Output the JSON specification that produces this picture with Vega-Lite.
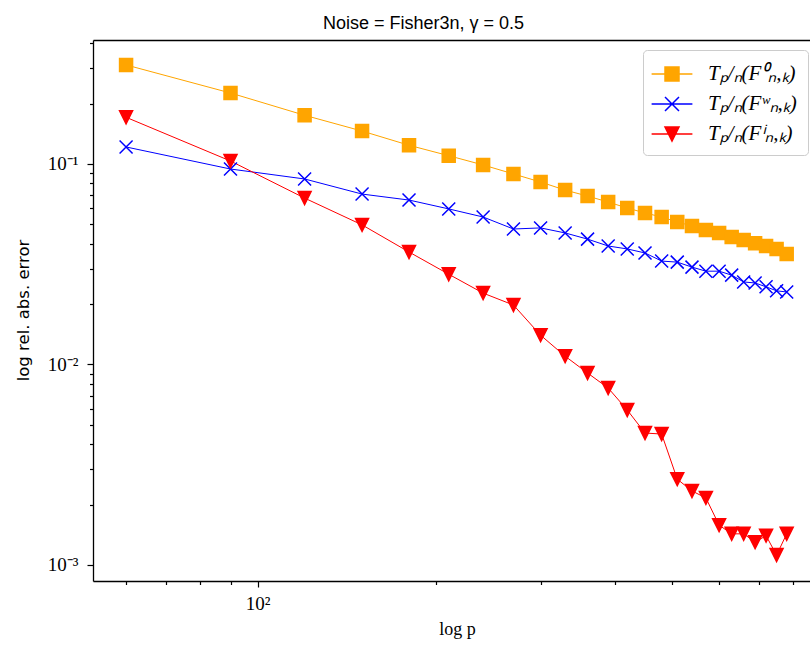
{
  "$schema": "https://vega.github.io/schema/vega-lite/v6.json",
  "width": 717,
  "height": 541,
  "autosize": {"type": "none"},
  "padding": {"left": 93, "top": 40, "right": 0, "bottom": 64},
  "background": "white",
  "config": {"view": {"stroke": null}},
  "title": {"text": "Noise = Fisher3n, γ = 0.5", "font": "Liberation Sans", "fontSize": 18, "fontWeight": "normal", "color": "black", "anchor": "start", "frame": "group", "dx": 230, "baseline": "alphabetic", "offset": -13},
  "data": {"values": [
    {"p": 60, "err": 0.312, "s": "F0"}, {"p": 90, "err": 0.226, "s": "F0"}, {"p": 120, "err": 0.175, "s": "F0"}, {"p": 150, "err": 0.146, "s": "F0"}, {"p": 180, "err": 0.124, "s": "F0"}, {"p": 210, "err": 0.110, "s": "F0"}, {"p": 240, "err": 0.0989, "s": "F0"}, {"p": 270, "err": 0.0892, "s": "F0"}, {"p": 300, "err": 0.0813, "s": "F0"}, {"p": 330, "err": 0.0741, "s": "F0"}, {"p": 360, "err": 0.0692, "s": "F0"}, {"p": 390, "err": 0.0646, "s": "F0"}, {"p": 420, "err": 0.0603, "s": "F0"}, {"p": 450, "err": 0.0570, "s": "F0"}, {"p": 480, "err": 0.0544, "s": "F0"}, {"p": 510, "err": 0.0514, "s": "F0"}, {"p": 540, "err": 0.0491, "s": "F0"}, {"p": 570, "err": 0.0469, "s": "F0"}, {"p": 600, "err": 0.0453, "s": "F0"}, {"p": 630, "err": 0.0433, "s": "F0"}, {"p": 660, "err": 0.0418, "s": "F0"}, {"p": 690, "err": 0.0403, "s": "F0"}, {"p": 720, "err": 0.0390, "s": "F0"}, {"p": 750, "err": 0.0377, "s": "F0"}, {"p": 780, "err": 0.0356, "s": "F0"},
    {"p": 60, "err": 0.1216, "s": "Fw"}, {"p": 90, "err": 0.0944, "s": "Fw"}, {"p": 120, "err": 0.0842, "s": "Fw"}, {"p": 150, "err": 0.0708, "s": "Fw"}, {"p": 180, "err": 0.0661, "s": "Fw"}, {"p": 210, "err": 0.0597, "s": "Fw"}, {"p": 240, "err": 0.0544, "s": "Fw"}, {"p": 270, "err": 0.0474, "s": "Fw"}, {"p": 300, "err": 0.0480, "s": "Fw"}, {"p": 330, "err": 0.0453, "s": "Fw"}, {"p": 360, "err": 0.0422, "s": "Fw"}, {"p": 390, "err": 0.0390, "s": "Fw"}, {"p": 420, "err": 0.0377, "s": "Fw"}, {"p": 450, "err": 0.0360, "s": "Fw"}, {"p": 480, "err": 0.0328, "s": "Fw"}, {"p": 510, "err": 0.0324, "s": "Fw"}, {"p": 540, "err": 0.0306, "s": "Fw"}, {"p": 570, "err": 0.0292, "s": "Fw"}, {"p": 600, "err": 0.0292, "s": "Fw"}, {"p": 630, "err": 0.0279, "s": "Fw"}, {"p": 660, "err": 0.0258, "s": "Fw"}, {"p": 690, "err": 0.0255, "s": "Fw"}, {"p": 720, "err": 0.0244, "s": "Fw"}, {"p": 750, "err": 0.0233, "s": "Fw"}, {"p": 780, "err": 0.0230, "s": "Fw"},
    {"p": 60, "err": 0.171, "s": "Fi"}, {"p": 90, "err": 0.1035, "s": "Fi"}, {"p": 120, "err": 0.0676, "s": "Fi"}, {"p": 150, "err": 0.0497, "s": "Fi"}, {"p": 180, "err": 0.0364, "s": "Fi"}, {"p": 210, "err": 0.0282, "s": "Fi"}, {"p": 240, "err": 0.0227, "s": "Fi"}, {"p": 270, "err": 0.0198, "s": "Fi"}, {"p": 300, "err": 0.0140, "s": "Fi"}, {"p": 330, "err": 0.0110, "s": "Fi"}, {"p": 360, "err": 0.00907, "s": "Fi"}, {"p": 390, "err": 0.00763, "s": "Fi"}, {"p": 420, "err": 0.00593, "s": "Fi"}, {"p": 450, "err": 0.00455, "s": "Fi"}, {"p": 480, "err": 0.00450, "s": "Fi"}, {"p": 510, "err": 0.00268, "s": "Fi"}, {"p": 540, "err": 0.00234, "s": "Fi"}, {"p": 570, "err": 0.00216, "s": "Fi"}, {"p": 600, "err": 0.00158, "s": "Fi"}, {"p": 630, "err": 0.00143, "s": "Fi"}, {"p": 660, "err": 0.00143, "s": "Fi"}, {"p": 690, "err": 0.00130, "s": "Fi"}, {"p": 720, "err": 0.00140, "s": "Fi"}, {"p": 750, "err": 0.00112, "s": "Fi"}, {"p": 780, "err": 0.00143, "s": "Fi"}
  ]},
  "resolve": {"scale": {"shape": "independent", "color": "independent", "stroke": "independent"}, "axis": {"x": "independent"}},
  "layer": [
    {
      "layer": [
        {
          "mark": {"type": "line", "strokeWidth": 1, "clip": true},
          "encoding": {
            "x": {"field": "p", "type": "quantitative",
              "scale": {"type": "log", "domain": [52.77, 853.9], "nice": false, "zero": false},
              "axis": {"orient": "bottom", "values": [60, 70, 80, 90, 100, 200, 300, 400, 500, 600, 700, 800],
                "labelExpr": "datum.value == 100 ? '10²' : ''",
                "tickSize": {"condition": {"test": "datum.value == 100", "value": 6}, "value": 3.5},
                "tickColor": "black", "tickWidth": 1.2, "domainColor": "black", "domainWidth": 1.3,
                "labelFont": "Liberation Serif", "labelFontSize": 19, "labelColor": "black", "labelBaseline": "alphabetic", "labelPadding": 22, "labelOverlap": false, "labelFlush": false,
                "grid": false,
                "title": "log p", "titleFont": "Liberation Serif", "titleFontSize": 18, "titleFontWeight": "normal", "titleColor": "black",
                "titleX": 364, "titleY": 53, "titleAlign": "center", "titleBaseline": "alphabetic"}},
            "y": {"field": "err", "type": "quantitative",
              "scale": {"type": "log", "domain": [0.000832, 0.4154], "nice": false, "zero": false},
              "axis": {"values": [0.001, 0.002, 0.003, 0.004, 0.005, 0.006, 0.007, 0.008, 0.009, 0.01, 0.02, 0.03, 0.04, 0.05, 0.06, 0.07, 0.08, 0.09, 0.1, 0.2, 0.3, 0.4],
                "labelExpr": "datum.value == 0.1 ? '10⁻¹' : datum.value == 0.01 ? '10⁻²' : datum.value == 0.001 ? '10⁻³' : ''",
                "tickSize": {"condition": {"test": "datum.value == 0.1 || datum.value == 0.01 || datum.value == 0.001", "value": 6}, "value": 3.5},
                "tickColor": "black", "tickWidth": 1.2, "domainColor": "black", "domainWidth": 1.3,
                "labelFont": "Liberation Serif", "labelFontSize": 19, "labelColor": "black", "labelBaseline": "middle", "labelPadding": 9, "labelOverlap": false, "labelFlush": false,
                "grid": false,
                "title": "log rel. abs. error", "titleFont": "DejaVu Sans", "titleFontSize": 16.5, "titleFontWeight": "normal", "titleColor": "black",
                "titleX": -65, "titleY": 270, "titleAlign": "center", "titleBaseline": "alphabetic", "titleAngle": 270}},
            "color": {"field": "s", "type": "nominal", "scale": {"domain": ["F0", "Fw", "Fi"], "range": ["orange", "blue", "red"]}, "legend": null},
            "detail": {"field": "s"}
          }
        },
        {
          "mark": {"type": "point", "filled": true, "size": 169, "strokeWidth": 1.5, "opacity": 1, "clip": true},
          "encoding": {
            "x": {"field": "p", "type": "quantitative"},
            "y": {"field": "err", "type": "quantitative"},
            "shape": {"field": "s", "type": "nominal", "scale": {"domain": ["F0", "Fw", "Fi"], "range": ["M-1,-1H1V1H-1Z", "M-1,-1L1,1M-1,1L1,-1", "M-1,-1H1L0,1Z"]}, "legend": null},
            "color": {"field": "s", "type": "nominal", "legend": null},
            "stroke": {"field": "s", "type": "nominal", "scale": {"domain": ["F0", "Fw", "Fi"], "range": ["orange", "blue", "red"]}, "legend": null}
          }
        }
      ]
    },
    {
      "mark": {"type": "point", "filled": true, "size": 1, "opacity": 0, "clip": true},
      "encoding": {
        "x": {"field": "p", "type": "quantitative",
          "scale": {"type": "log", "domain": [52.77, 853.9], "nice": false, "zero": false},
          "axis": {"orient": "top", "labels": false, "ticks": false, "domain": true, "domainColor": "black", "domainWidth": 1.3, "title": null, "grid": false}},
        "y": {"field": "err", "type": "quantitative"}
      }
    },
    {
      "transform": [{"filter": "false"}],
      "mark": {"type": "point", "filled": true, "opacity": 1, "strokeWidth": 1.3, "size": 576},
      "encoding": {
        "shape": {"field": "s", "type": "nominal",
          "scale": {"domain": ["F0", "Fw", "Fi"], "range": ["M-1.7,0H1.7M-0.583,-0.583H0.583V0.583H-0.583Z", "M-1.7,0H1.7M-0.583,-0.583L0.583,0.583M-0.583,0.583L0.583,-0.583", "M-1.7,0H1.7M-0.583,-0.583H0.583L0,0.583Z"]},
          "legend": {"title": null, "orient": "none", "legendX": 550, "legendY": 10,
            "labelExpr": "datum.value == 'F0' ? 'Tₚ/ₙ(F⁰ₙ,ₖ)' : datum.value == 'Fw' ? 'Tₚ/ₙ(Fʷₙ,ₖ)' : 'Tₚ/ₙ(Fⁱₙ,ₖ)'",
            "labelFont": "Liberation Serif", "labelFontStyle": "italic", "labelFontSize": 21, "labelColor": "black",
            "symbolSize": 576, "symbolOffset": 5, "labelOffset": 23, "rowPadding": 7, "padding": 11,
            "strokeColor": "#cccccc", "fillColor": "white", "cornerRadius": 4}},
        "color": {"field": "s", "type": "nominal",
          "scale": {"domain": ["F0", "Fw", "Fi"], "range": ["orange", "blue", "red"]},
          "legend": {"title": null, "orient": "none", "legendX": 550, "legendY": 10,
            "labelExpr": "datum.value == 'F0' ? 'Tₚ/ₙ(F⁰ₙ,ₖ)' : datum.value == 'Fw' ? 'Tₚ/ₙ(Fʷₙ,ₖ)' : 'Tₚ/ₙ(Fⁱₙ,ₖ)'",
            "labelFont": "Liberation Serif", "labelFontStyle": "italic", "labelFontSize": 21, "labelColor": "black",
            "symbolSize": 576, "symbolOffset": 5, "labelOffset": 23, "rowPadding": 7, "padding": 11,
            "strokeColor": "#cccccc", "fillColor": "white", "cornerRadius": 4}},
        "stroke": {"field": "s", "type": "nominal",
          "scale": {"domain": ["F0", "Fw", "Fi"], "range": ["orange", "blue", "red"]},
          "legend": {"title": null, "orient": "none", "legendX": 550, "legendY": 10,
            "labelExpr": "datum.value == 'F0' ? 'Tₚ/ₙ(F⁰ₙ,ₖ)' : datum.value == 'Fw' ? 'Tₚ/ₙ(Fʷₙ,ₖ)' : 'Tₚ/ₙ(Fⁱₙ,ₖ)'",
            "labelFont": "Liberation Serif", "labelFontStyle": "italic", "labelFontSize": 21, "labelColor": "black",
            "symbolSize": 576, "symbolOffset": 5, "labelOffset": 23, "rowPadding": 7, "padding": 11,
            "strokeColor": "#cccccc", "fillColor": "white", "cornerRadius": 4}}
      }
    }
  ]
}
